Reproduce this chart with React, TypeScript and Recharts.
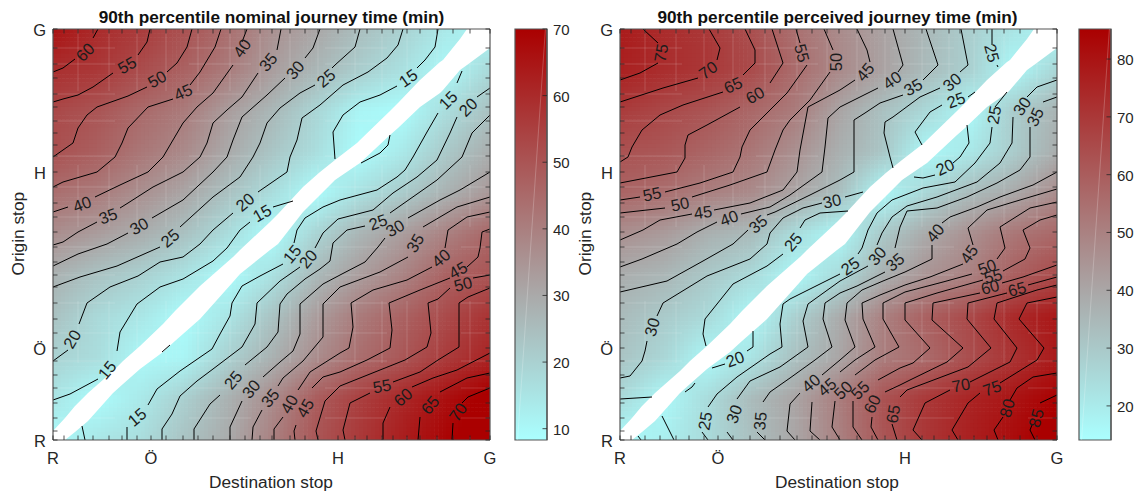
import React from 'react';
import { ComposedChart, XAxis, YAxis, Scatter, Area, ReferenceArea, ReferenceLine, CartesianGrid } from 'recharts';

type P = [number, number];

const stopsX = [0,11,25,40,56,69,84,98,113,130,145,160,177,192,207,219,237,252,265,285,302,314,329,340,354,367,384,400,417,437];
const stopsY = [0,9,22,37,52,65,79,92,107,121,137,153,165,178,193,208,223,237,253,268,284,295,307,319,333,346,362,376,392,411];
const labelX: Record<number,string> = {0:'R',98:'Ö',285:'H',437:'G'};
const labelY: Record<number,string> = {0:'R',92:'Ö',268:'H',411:'G'};

// Stops where the mesh of the surface shows through
const meshX = [25,56,84,113,145,177,207,237,265,302,329,354,384,417];
const meshY = [22,52,79,107,137,165,193,223,253,284,319,346,376,392];

// Nodes of the value grid
const gridX = [0,44,88,131,175,219,262,306,350,393,437];
const gridY = [411,370,329,288,247,206,164,123,82,41,0];

const nomRow411 = [66,60,56,51,44,36,31,25,20,14,10];
const nomRow370 = [59,57,52,47,41,33,27,21,16,10,18];
const nomRow329 = [53,50,45,41,33,26.5,19,11,9,17,24];
const nomRow288 = [51,47.5,42,37.5,30,23,17,9,14,22,29];
const nomRow247 = [44,41,36,31,24,17,9,16,21.5,28,34];
const nomRow206 = [36.5,33,29,24,17,9,19,27,33,39.5,46];
const nomRow164 = [28,23.5,20,15.5,9,16,26,33,39,47,50];
const nomRow123 = [24,18,14.5,9,15,23.5,33,41,47,52.5,58];
const nomRow82 = [19.5,17,10,11,20,28,36.5,44,49.5,56,61.5];
const nomRow41 = [15,9,14,20.5,28,37,48,55,61,66.5,72];
const nomRow0 = [9,14.5,17,23.5,29.5,39.5,49.5,56.5,63,69,74];
const nomRows = [nomRow411,nomRow370,nomRow329,nomRow288,nomRow247,nomRow206,nomRow164,nomRow123,nomRow82,nomRow41,nomRow0];

const perRow411 = [78,73.5,70,64,55,47.5,41.5,35,28.5,22,16];
const perRow370 = [76.5,73,70,65,56,48,41.5,34,28,16,26];
const perRow329 = [69,65.5,62,57,51.5,40.5,32.5,25.5,16,29,36];
const perRow288 = [63,61.5,57.5,53,46,37.5,31,16,21,29,38];
const perRow247 = [58,55,50.5,47.5,40.5,33,16,26,34,39,47];
const perRow206 = [46,43,37,34,24,16,30,39,46,53,57];
const perRow164 = [38,35.5,30,25,16,25,37,45,50,59,65];
const perRow123 = [34,29.5,25,16,28,38.5,50,59,65.5,74,79];
const perRow82 = [31.5,26,16,22,32.5,40,51,56,64,71,78];
const perRow41 = [25,16,24.5,34,40.5,51,62.5,70,75.5,80,85];
const perRow0 = [15,19,25,32.5,40,50,61.5,70.5,76.5,82,88];
const perRows = [perRow411,perRow370,perRow329,perRow288,perRow247,perRow206,perRow164,perRow123,perRow82,perRow41,perRow0];

// Edges of the empty diagonal: x, lower y, upper y
const bandX = [0,12,22,35,60,70,87,110,122,147,180,187,217,225,250,267,282,304,307,337,345,367,387,390,407,414,437];
const bandLow = [0,0,8,19,47,56,71,88,99,121,158,166,190,196,228,245,260,275,277,305,312,333,347,350,370,375,392];
const bandHigh = [9,22,34,47,69,79,94,116,129,154,183,190,218,226,253,268,280,297,300,329,337,360,378,380,401,411,411];

// Nominal contours, one array of broken pieces per level
const nom15: P[][] = [
  [[385,411],[382,393],[372,380],[364,372]],
  [[344,354],[327,345],[307,338],[290,325],[280,308],[282,281]],
  [[240,239],[220,233]],
  [[197,218],[187,210],[174,192],[160,179],[130,161],[107,153],[84,136],[67,108],[64,89]],
  [[45,61],[17,46],[0,40]],
  [[409,369],[404,357]],
  [[385,327],[374,308],[360,283],[352,270],[344,263],[324,250],[287,240],[270,233],[252,222],[244,210],[241,197]],
  [[230,176],[207,164],[189,154],[179,137],[177,124],[167,106],[159,91],[127,69],[104,51],[95,35]],
  [[74,13],[74,0]],
  [[29,14],[32,0]],
  [[109,88],[117,95]],
  [[308,277],[327,287],[335,295],[337,305]],
];
const nom20: P[][] = [
  [[350,411],[345,395],[334,382],[315,368],[290,355],[267,335],[249,322],[244,300],[237,283],[234,268],[205,248]],
  [[180,227],[160,210],[147,196],[130,183],[107,178],[85,164],[57,153],[34,137],[26,116]],
  [[15,90],[0,79]],
  [[437,352],[424,343]],
  [[404,323],[397,307],[384,280],[364,263],[340,247],[320,230],[285,221],[270,207],[262,192]],
  [[247,173],[227,159],[204,137],[202,116],[189,93],[160,71],[144,59],[127,44],[119,26],[109,11],[109,0]],
];
const nom25: P[][] = [
  [[307,411],[302,393],[282,375],[279,372]],
  [[262,355],[247,347],[227,332],[214,317],[207,297],[200,283],[187,263],[160,243],[127,213]],
  [[107,193],[64,174],[27,163],[0,153]],
  [[437,325],[419,307],[409,283],[384,260],[337,227]],
  [[312,214],[294,210],[280,197],[277,179],[267,171],[252,161],[234,146],[227,136],[225,108],[214,93],[192,75]],
  [[167,45],[157,36],[141,11],[141,0]],
];
const nom30: P[][] = [
  [[267,411],[260,392],[252,382]],
  [[232,362],[214,345],[189,323],[180,300],[174,283],[160,268],[130,240],[99,222]],
  [[75,207],[54,196],[25,186],[0,174]],
  [[437,268],[407,250],[387,240],[355,222]],
  [[332,202],[325,193],[312,178],[287,165],[270,156],[247,136],[247,106],[240,89],[227,78],[210,63]],
  [[189,39],[177,13],[177,0]],
];
const nom35: P[][] = [
  [[228,411],[224,390]],
  [[205,367],[189,343],[174,330],[160,317],[154,297],[147,283],[130,268],[100,253],[75,237],[67,232]],
  [[44,218],[25,208],[10,198],[0,195]],
  [[437,243],[404,233],[370,213]],
  [[355,183],[327,168],[287,153],[270,136],[270,103],[250,79],[230,62],[225,54]],
  [[209,30],[200,13],[199,0]],
];
const nom40: P[][] = [
  [[194,411],[189,398]],
  [[180,375],[160,347],[144,333],[130,317],[120,300],[110,283],[95,268],[67,255],[42,243]],
  [[15,233],[0,228]],
  [[437,228],[414,223],[395,210],[392,192]],
  [[379,173],[354,160],[320,150],[298,137],[300,113],[296,92],[287,87],[257,68],[245,50]],
  [[230,23],[221,11],[221,0]],
];
const nom45: P[][] = [
  [[168,411],[162,393],[147,368],[137,355]],
  [[120,341],[95,333],[75,312],[69,297],[62,283],[44,268],[10,258],[0,253]],
  [[437,211],[429,208],[427,192],[425,183],[414,173]],
  [[397,162],[367,150],[336,137],[339,110],[337,92],[314,80],[287,68],[270,63],[259,52]],
  [[243,15],[241,9],[242,0]],
];
const nom50: P[][] = [
  [[139,411],[134,393],[124,377],[114,368]],
  [[94,353],[75,344],[44,333],[34,325],[25,312],[20,297],[10,290],[0,283]],
  [[437,165],[420,162]],
  [[397,152],[385,141],[375,137],[378,107],[374,93],[352,80],[327,70],[287,54],[272,39],[263,9],[265,0]],
];
const nom55: P[][] = [
  [[97,411],[94,398],[85,385]],
  [[60,367],[40,353],[25,345],[10,341],[0,338]],
  [[437,152],[415,143],[406,137],[406,93],[385,80],[367,68],[340,58]],
  [[317,47],[297,37],[290,10],[292,0]],
];
const nom60: P[][] = [
  [[45,411],[40,402]],
  [[22,381],[10,372],[0,368]],
  [[437,87],[404,70],[380,62],[359,53]],
  [[337,33],[330,17],[330,0]],
];
const nom65: P[][] = [
  [[437,67],[414,62],[387,48]],
  [[367,23],[365,0]],
];
const nom70: P[][] = [
  [[437,52],[415,43],[409,37]],
  [[400,17],[399,0]],
];
const nomLines = [nom15,nom20,nom25,nom30,nom35,nom40,nom45,nom50,nom55,nom60,nom65,nom70];

const nomLabels: [number,number,number,number][] = [
  [60,32,388,-45],[55,74,375,-30],[50,104,361,-30],[45,130,348,-25],[40,189,392,-55],[35,215,378,-50],
  [30,242,370,-50],[25,273,362,-40],[15,355,362,-35],[15,395,340,-45],[20,415,333,-45],[20,192,238,-40],
  [15,209,227,-30],[40,29,236,-20],[35,55,224,-20],[30,86,214,-30],[25,117,202,-40],[20,19,101,-60],
  [15,54,70,-50],[15,84,23,-40],[15,239,186,-50],[20,255,181,-50],[25,325,218,-20],[30,342,212,-30],
  [35,362,197,-60],[40,388,182,-40],[45,405,170,-30],[50,410,156,-15],[25,180,60,-50],[30,198,51,-50],
  [35,217,42,-50],[40,236,36,-60],[45,252,32,-60],[55,329,54,-10],[60,350,43,-40],[65,377,35,-50],[70,405,28,-55],
];

// Perceived contours
const per20: P[][] = [
  [[347,315],[349,297],[340,283],[333,277]],
  [[315,265],[303,262],[294,263]],
  [[133,109],[133,93],[127,89]],
  [[105,76],[92,72]],
  [[42,24],[54,0]],
  [[18,4],[21,0]],
];
const per25: P[][] = [
  [[372,411],[372,395]],
  [[377,375],[378,373]],
  [[355,348],[348,343]],
  [[322,335],[310,328],[295,308],[302,295]],
  [[228,229],[200,227],[185,220],[180,212]],
  [[163,186],[147,174],[113,156],[97,136],[85,121],[83,106],[86,94]],
  [[0,41],[32,43]],
  [[65,48],[72,53],[75,57]],
  [[387,348],[375,333]],
  [[372,313],[370,297],[355,277],[335,258],[303,252],[272,240],[257,227],[248,210],[242,192],[238,186]],
  [[220,166],[170,141],[163,136],[160,116],[162,93],[150,86],[117,63],[97,46],[88,33]],
  [[82,8],[88,0]],
];
const per30: P[][] = [
  [[341,411],[348,375],[340,368]],
  [[320,352],[300,343],[273,323],[265,318],[264,307],[270,283],[273,272]],
  [[243,248],[225,243]],
  [[202,237],[183,232],[163,222],[150,207],[147,196],[130,181],[87,164],[43,137],[37,124]],
  [[27,99],[25,89],[22,79],[10,64],[0,62]],
  [[437,360],[417,353],[407,343]],
  [[393,323],[392,297],[380,277],[357,258],[317,243],[287,234],[272,223],[262,207],[257,195]],
  [[248,174],[220,159],[188,136],[183,119],[188,93],[160,73],[130,59],[117,41]],
  [[107,8],[113,0]],
];
const per35: P[][] = [
  [[306,411],[318,375],[303,360]],
  [[283,345],[260,337],[245,327],[234,320],[234,268],[220,260],[190,245],[155,228],[147,225]],
  [[128,210],[113,196],[83,179],[47,159],[0,148]],
  [[437,343],[423,338]],
  [[410,313],[410,283],[400,270],[377,257],[347,243],[317,232],[287,229],[280,213],[275,192]],
  [[265,168],[237,154],[220,147],[205,137],[203,121],[212,93],[195,80],[170,62],[150,48],[143,38]],
  [[137,8],[145,0]],
];
const per40: P[][] = [
  [[273,411],[283,375],[278,368]],
  [[258,352],[220,333],[208,322],[205,293],[202,268],[170,245],[150,233],[121,226]],
  [[97,218],[77,208],[57,196],[22,181],[0,173]],
  [[437,268],[413,255],[380,243],[357,233],[330,223],[322,217]],
  [[312,195],[312,181],[285,168],[263,159],[242,150],[227,137],[225,120],[235,93],[220,80],[202,65]],
  [[180,47],[170,36],[167,9],[175,0]],
];
const per45: P[][] = [
  [[237,411],[247,390],[250,378]],
  [[235,360],[220,350],[188,333],[180,290],[177,268],[163,250],[130,237],[94,230]],
  [[72,226],[40,220],[23,210],[0,200]],
  [[437,251],[400,240],[367,230],[348,212],[353,195]],
  [[343,176],[310,163],[285,155],[260,145],[242,137],[243,121],[255,93],[235,80],[220,68]],
  [[192,38],[190,9],[200,0]],
];
const per50: P[][] = [
  [[204,411],[213,390]],
  [[210,368],[190,340],[170,320],[163,310],[155,290],[147,268],[110,255],[72,243]],
  [[45,232],[0,227]],
  [[437,238],[410,232],[380,213],[385,192],[377,181]],
  [[352,166],[323,158],[285,148],[263,137],[263,121],[279,93],[255,80],[235,65]],
  [[215,39],[212,13],[220,0]],
];
const per55: P[][] = [
  [[176,411],[180,397]],
  [[187,375],[167,347],[147,327],[130,310],[122,293],[120,283],[113,268],[80,257],[45,248]],
  [[20,243],[0,240]],
  [[437,225],[420,220],[403,210],[410,192],[405,181],[383,169]],
  [[363,160],[317,147],[285,137],[285,120],[310,92],[293,77],[280,72],[258,60]],
  [[233,39],[233,13],[242,0]],
];
const per60: P[][] = [
  [[152,411],[163,377],[150,357]],
  [[120,333],[87,315],[68,305],[65,295],[65,282],[57,268],[0,257]],
  [[437,175],[403,163],[382,157]],
  [[360,147],[313,137],[312,120],[343,92],[327,78],[290,60],[280,55],[265,48]],
  [[252,23],[251,13],[258,0]],
];
const per65: P[][] = [
  [[125,411],[135,390],[135,377],[123,365]],
  [[103,348],[63,335],[40,325],[22,310],[12,293],[8,283],[0,278]],
  [[437,163],[408,155]],
  [[387,147],[348,137],[347,121],[371,92],[348,73],[287,50],[280,43]],
  [[272,16],[277,0]],
];
const per70: P[][] = [
  [[89,411],[100,392],[97,380]],
  [[78,362],[43,352],[0,338]],
  [[437,155],[417,150],[377,137],[374,121],[397,92],[390,78],[350,58]],
  [[330,50],[305,37],[293,10],[302,0]],
];
const per75: P[][] = [
  [[23,411],[38,397]],
  [[38,377],[20,367],[0,360]],
  [[437,143],[407,137],[399,121],[424,92],[417,80],[380,57]],
  [[360,47],[348,37],[332,10],[338,0]],
];
const per80: P[][] = [
  [[437,67],[413,63],[397,52],[390,40]],
  [[383,23],[374,10],[378,0]],
];
const per85: P[][] = [
  [[437,45],[420,37]],
  [[412,15],[410,10],[415,0]],
];
const perLines = [per20,per25,per30,per35,per40,per45,per50,per55,per60,per65,per70,per75,per80,per85];

const perLabels: [number,number,number,number][] = [
  [75,41,387,-80],[70,88,370,-35],[65,113,355,-25],[60,135,345,-30],[55,182,387,75],[50,216,378,-90],
  [45,245,368,-50],[40,272,360,-35],[35,293,353,-30],[30,332,358,-40],[25,336,340,-20],[25,372,387,75],
  [20,325,273,-25],[25,374,325,-80],[30,402,334,-55],[35,415,323,-65],[55,32,246,-12],[50,60,236,-12],
  [45,83,228,-8],[40,109,222,-20],[35,138,216,-40],[30,212,239,-12],[25,173,198,-50],[30,32,113,-75],
  [20,115,81,-20],[25,85,19,-80],[30,114,26,-70],[35,140,19,-85],[40,191,57,-40],[45,207,53,-40],
  [50,223,50,-45],[55,240,50,-45],[60,252,36,-65],[65,273,26,-80],[70,341,55,-10],[75,372,52,-20],
  [80,387,32,-75],[85,416,22,-75],[25,230,174,-35],[30,257,184,-50],[35,275,178,-40],[40,315,207,-50],
  [45,349,186,-55],[50,367,173,-20],[55,373,164,-15],[60,370,153,-15],[65,397,151,-15],
];

const nomTicks = [10,20,30,40,50,60,70];
const perTicks = [20,30,40,50,60,70,80];

const FONT = '"Liberation Sans", Arial, Helvetica, sans-serif';
const INK = '#262626';
const EDGE = '#555555';
const TICK = 4.5;

function mapColor(v: number, min: number, max: number) {
  const t = Math.max(0, Math.min(1, (v - min) / (max - min)));
  const g = t < 0.35 ? 255 - 85 * (t / 0.35) : 170 * (1 - (t - 0.35) / 0.65);
  return `rgb(170,${Math.round(g)},${Math.round(g)})`;
}

// Paints the smooth patch between one grid node and the next ones
function makePatch(min: number, max: number) {
  return (props: any) => {
    const { cx, cy, payload } = props;
    const { v00, v10, v01, v11, w, h } = payload;
    const nx = Math.max(2, Math.round(w / 4));
    const ny = Math.max(2, Math.round(h / 4));
    const cells: React.ReactNode[] = [];
    for (let i = 0; i < nx; i++) {
      for (let j = 0; j < ny; j++) {
        const u = (i + 0.5) / nx;
        const s = (j + 0.5) / ny;
        const v = v00 * (1 - u) * (1 - s) + v10 * u * (1 - s) + v01 * (1 - u) * s + v11 * u * s;
        cells.push(
          <rect key={`${i}-${j}`} x={cx + (i * w) / nx} y={cy + (j * h) / ny}
            width={w / nx + 0.6} height={h / ny + 0.6} fill={mapColor(v, min, max)} stroke="none" />
        );
      }
    }
    return <g>{cells}</g>;
  };
}

const blank = () => <g />;

const contourText = (props: any) => {
  const { cx, cy, payload } = props;
  return (
    <text x={cx} y={cy} dy="0.36em" textAnchor="middle" fontFamily={FONT} fontSize={16.5} fill="#1c1c1c"
      transform={`rotate(${payload.angle} ${cx} ${cy})`}>{payload.text}</text>
  );
};

const xTick = (labelled: boolean, dir: number) => (props: any) => {
  const { x, y, payload } = props;
  return (
    <g>
      <line x1={x} x2={x} y1={y} y2={y + dir * TICK} stroke={INK} strokeWidth={0.8} />
      {labelled && labelX[payload.value] ? (
        <text x={x} y={y + 23.5} textAnchor="middle" fontFamily={FONT} fontSize={16.5} fill={INK}>{labelX[payload.value]}</text>
      ) : null}
    </g>
  );
};
const yTick = (labelled: boolean, dir: number) => (props: any) => {
  const { x, y, payload } = props;
  return (
    <g>
      <line x1={x} x2={x + dir * TICK} y1={y} y2={y} stroke={INK} strokeWidth={0.8} />
      {labelled && labelY[payload.value] ? (
        <text x={x - 7} y={y + 6.5} textAnchor="end" fontFamily={FONT} fontSize={16.5} fill={INK}>{labelY[payload.value]}</text>
      ) : null}
    </g>
  );
};

const bandRows = bandX.map((x, i) => ({ x, band: [bandLow[i], bandHigh[i]] }));

function Panel({ left, rows, lines, labels, min, max }: any) {
  const patches: any[] = [];
  for (let r = 0; r < gridY.length - 1; r++) {
    for (let c = 0; c < gridX.length - 1; c++) {
      patches.push({
        x: gridX[c], y: gridY[r],
        v00: rows[r][c], v10: rows[r][c + 1], v01: rows[r + 1][c], v11: rows[r + 1][c + 1],
        w: gridX[c + 1] - gridX[c], h: gridY[r] - gridY[r + 1],
      });
    }
  }
  const textRows = labels.map((l: number[]) => ({ text: String(l[0]), x: l[1], y: l[2], angle: l[3] }));
  const pieces: any[][] = [];
  lines.forEach((level: P[][]) => level.forEach((part) => pieces.push(part.map(([x, y]) => ({ x, y })))));
  return (
    <div style={{ position: 'absolute', left, top: 0 }}>
      <ComposedChart width={500} height={494} data={bandRows} margin={{ top: 24, left: 23, right: 5, bottom: 24 }}>
        <XAxis xAxisId="b" dataKey="x" type="number" domain={[0, 437]} ticks={stopsX} interval={0} height={30}
          tickSize={0} tickMargin={0} tickLine={false} axisLine={{ stroke: EDGE, strokeWidth: 1.2 }}
          tick={xTick(true, -1)} allowDataOverflow zIndex={900} />
        <XAxis xAxisId="t" dataKey="x" type="number" orientation="top" domain={[0, 437]} ticks={stopsX} interval={0} height={5}
          tickSize={0} tickMargin={0} tickLine={false} axisLine={{ stroke: EDGE, strokeWidth: 1.2 }}
          tick={xTick(false, 1)} allowDataOverflow zIndex={900} />
        <YAxis yAxisId="l" dataKey="y" type="number" domain={[0, 411]} ticks={stopsY} interval={0} width={30}
          tickSize={0} tickMargin={0} tickLine={false} axisLine={{ stroke: EDGE, strokeWidth: 1.2 }}
          tick={yTick(true, 1)} allowDataOverflow zIndex={900} />
        <YAxis yAxisId="r" dataKey="y" type="number" orientation="right" domain={[0, 411]} ticks={stopsY} interval={0} width={5}
          tickSize={0} tickMargin={0} tickLine={false} axisLine={{ stroke: EDGE, strokeWidth: 1.2 }}
          tick={yTick(false, -1)} allowDataOverflow zIndex={900} />
        <Scatter xAxisId="b" yAxisId="l" data={patches} shape={makePatch(min, max)} isAnimationActive={false} zIndex={50} />
        <CartesianGrid xAxisId="b" yAxisId="l" verticalValues={meshX} horizontalValues={meshY} stroke="#ffffff" strokeOpacity={0.16}
          strokeWidth={1} strokeDasharray="62 74" zIndex={55} />
        <Area xAxisId="b" yAxisId="l" dataKey="band" fill="#ffffff" fillOpacity={1} stroke="none" type="linear"
          dot={false} activeDot={false} isAnimationActive={false} zIndex={60} />
        {pieces.map((pts, i) => (
          <Scatter key={i} xAxisId="b" yAxisId="l" data={pts} shape={blank} line={{ stroke: '#000', strokeWidth: 1 }}
            lineType="joint" isAnimationActive={false} zIndex={70} />
        ))}
        <Scatter xAxisId="b" yAxisId="l" data={textRows} shape={contourText} isAnimationActive={false} zIndex={80} />
      </ComposedChart>
    </div>
  );
}

function ColorBar({ left, id, min, max, ticks }: any) {
  const tick = (props: any) => {
    const { x, y, payload } = props;
    return (
      <g>
        <line x1={x - TICK} x2={x} y1={y} y2={y} stroke={INK} strokeWidth={0.8} />
        <text x={x + 6} y={y + 6} fontFamily={FONT} fontSize={15} fill={INK}>{payload.value}</text>
      </g>
    );
  };
  return (
    <div style={{ position: 'absolute', left, top: 0 }}>
      <ComposedChart width={69} height={494} data={[{ x: 0 }, { x: 1 }]} margin={{ top: 29, left: 10, right: 0, bottom: 54 }}>
        <defs>
          <linearGradient id={id} x1="0" y1="1" x2="0" y2="0">
            <stop offset="0%" stopColor="rgb(170,255,255)" />
            <stop offset="35%" stopColor="rgb(170,170,170)" />
            <stop offset="100%" stopColor="rgb(170,0,0)" />
          </linearGradient>
        </defs>
        <XAxis dataKey="x" type="number" domain={[0, 1]} hide />
        <YAxis type="number" orientation="right" domain={[min, max]} ticks={ticks} interval={0} width={27}
          tickSize={0} tickMargin={0} tickLine={false} axisLine={{ stroke: EDGE, strokeWidth: 1.2 }} tick={tick} allowDataOverflow zIndex={900} />
        <ReferenceArea x1={0} x2={1} y1={min} y2={max} fill={`url(#${id})`} fillOpacity={1} stroke={EDGE} strokeWidth={1.2} />
        <ReferenceLine segment={[{ x: 0.95, y: max }, { x: 0.08, y: min }]} stroke="#ffffff" strokeOpacity={0.22} strokeWidth={1} />
      </ComposedChart>
    </div>
  );
}

const textBase: React.CSSProperties = { position: 'absolute', fontFamily: FONT, whiteSpace: 'nowrap', color: INK, lineHeight: 1 };

function Title({ cx, children }: any) {
  return <div style={{ ...textBase, left: cx - 250, width: 500, textAlign: 'center', top: 8.5, fontSize: 17.2, fontWeight: 700, color: '#111' }}>{children}</div>;
}
function XLabel({ cx }: any) {
  return <div style={{ ...textBase, left: cx - 100, width: 200, textAlign: 'center', top: 473.5, fontSize: 17.3 }}>Destination stop</div>;
}
function YLabel({ cx }: any) {
  return <div style={{ ...textBase, left: cx - 100, width: 200, textAlign: 'center', top: 224.5, fontSize: 17.3, transform: 'rotate(-90deg)' }}>Origin stop</div>;
}

export default function App() {
  return (
    <div style={{ position: 'absolute', left: 0, top: 0, width: 1138, height: 494, overflow: 'hidden', background: '#fff' }}>
      <Panel left={0} rows={nomRows} lines={nomLines} labels={nomLabels} min={8.3} max={70} />
      <ColorBar left={505} id="cbL" min={8.3} max={70} ticks={nomTicks} />
      <Panel left={567} rows={perRows} lines={perLines} labels={perLabels} min={14.1} max={85.2} />
      <ColorBar left={1069} id="cbR" min={14.1} max={85.2} ticks={perTicks} />
      <Title cx={271.5}>90th percentile nominal journey time (min)</Title>
      <Title cx={837.5}>90th percentile perceived journey time (min)</Title>
      <XLabel cx={271} />
      <XLabel cx={837} />
      <YLabel cx={19} />
      <YLabel cx={586} />
    </div>
  );
}
